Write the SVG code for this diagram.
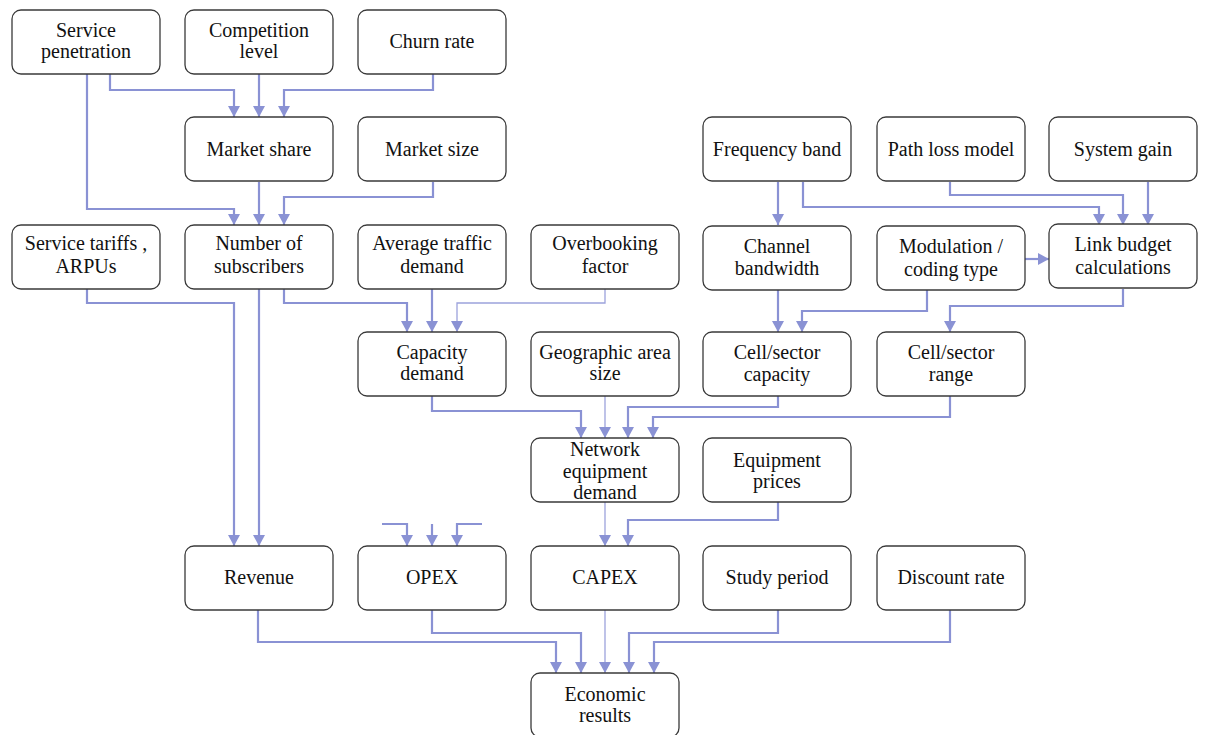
<svg xmlns="http://www.w3.org/2000/svg" width="1205" height="735" viewBox="0 0 1205 735">
  <style>
    .box { fill: #ffffff; stroke: #3a3a3a; stroke-width: 1.3; }
    text { font-family: "Liberation Serif", "Times New Roman", serif; font-size: 20px; fill: #111111; text-anchor: middle; }
    .wire { fill: none; stroke: #8a92d4; stroke-width: 2.2; marker-end: url(#tip); }
    .thin { fill: none; stroke: #9ca2dc; stroke-width: 1.3; marker-end: url(#tip); }
  </style>
  <defs>
    <marker id="tip" markerUnits="userSpaceOnUse" markerWidth="12" markerHeight="12" refX="11" refY="6" orient="auto">
      <path d="M0,0 L11,6 L0,12 z" fill="#8a92d4"/>
    </marker>
  </defs>
  <rect width="1205" height="735" fill="#ffffff"/>

  <!-- connectors -->
  <g id="connectors">
    <!-- into Market share -->
    <path class="wire" d="M110,74 V90 H234 V117"/>
    <path class="wire" d="M259,74 V117"/>
    <path class="wire" d="M433,74 V90 H284 V117"/>
    <!-- into Number of subscribers -->
    <path class="wire" d="M87,74 V209 H234 V225"/>
    <path class="wire" d="M259,182 V225"/>
    <path class="wire" d="M433,182 V197 H284 V225"/>
    <!-- into Revenue -->
    <path class="wire" d="M87,289 V303 H234 V546"/>
    <path class="wire" d="M259,289 V546"/>
    <!-- into Capacity demand -->
    <path class="wire" d="M284,289 V303 H407 V332"/>
    <path class="wire" d="M432,289 V332"/>
    <path class="thin" d="M605,289 V303 H457 V332"/>
    <!-- radio side -->
    <path class="wire" d="M778,182 V225"/>
    <path class="wire" d="M803,182 V207 H1099 V225"/>
    <path class="wire" d="M950,182 V195 H1123 V225"/>
    <path class="wire" d="M1148,182 V225"/>
    <path class="wire" d="M1025,259 H1049"/>
    <path class="wire" d="M778,289 V332"/>
    <path class="wire" d="M927,289 V311 H802 V332"/>
    <path class="wire" d="M1123,289 V306 H950 V332"/>
    <!-- into Network equipment demand -->
    <path class="wire" d="M432,396 V411 H581 V438"/>
    <path class="thin" d="M605,396 V438"/>
    <path class="wire" d="M778,396 V407 H628 V438"/>
    <path class="wire" d="M950,396 V417 H653 V438"/>
    <!-- into CAPEX -->
    <path class="thin" d="M605,502 V546"/>
    <path class="wire" d="M778,502 V520 H628 V546"/>
    <!-- into OPEX -->
    <path class="wire" d="M382,524 H407 V546"/>
    <path class="wire" d="M432,524 V546"/>
    <path class="wire" d="M482,524 H457 V546"/>
    <!-- into Economic results -->
    <path class="wire" d="M258,610 V642 H556 V673"/>
    <path class="wire" d="M432,610 V633 H581 V673"/>
    <path class="thin" d="M605,610 V673"/>
    <path class="wire" d="M778,610 V633 H629 V673"/>
    <path class="wire" d="M950,610 V642 H654 V673"/>
  </g>

  <g id="nodes">
  <!-- row 0 -->
  <g id="service-penetration"><rect class="box" x="12" y="10" width="148" height="64" rx="9"/>
    <text x="86" y="37">Service</text><text x="86" y="58">penetration</text></g>
  <g id="competition-level"><rect class="box" x="185" y="10" width="148" height="64" rx="9"/>
    <text x="259" y="37">Competition</text><text x="259" y="58">level</text></g>
  <g id="churn-rate"><rect class="box" x="358" y="10" width="148" height="64" rx="9"/>
    <text x="432" y="48">Churn rate</text></g>

  <!-- row 1 -->
  <g id="market-share"><rect class="box" x="185" y="117" width="148" height="64" rx="9"/>
    <text x="259" y="156">Market share</text></g>
  <g id="market-size"><rect class="box" x="358" y="117" width="148" height="64" rx="9"/>
    <text x="432" y="156">Market size</text></g>
  <g id="frequency-band"><rect class="box" x="703" y="117" width="148" height="64" rx="9"/>
    <text x="777" y="156">Frequency band</text></g>
  <g id="path-loss-model"><rect class="box" x="877" y="117" width="148" height="64" rx="9"/>
    <text x="951" y="156">Path loss model</text></g>
  <g id="system-gain"><rect class="box" x="1049" y="117" width="148" height="64" rx="9"/>
    <text x="1123" y="156">System gain</text></g>

  <!-- row 2 -->
  <g id="service-tariffs"><rect class="box" x="12" y="225" width="148" height="64" rx="9"/>
    <text x="86" y="250">Service tariffs ,</text><text x="86" y="273">ARPUs</text></g>
  <g id="number-of-subscribers"><rect class="box" x="185" y="225" width="148" height="64" rx="9"/>
    <text x="259" y="250">Number of</text><text x="259" y="273">subscribers</text></g>
  <g id="average-traffic-demand"><rect class="box" x="358" y="225" width="148" height="64" rx="9"/>
    <text x="432" y="250">Average traffic</text><text x="432" y="273">demand</text></g>
  <g id="overbooking-factor"><rect class="box" x="531" y="225" width="148" height="64" rx="9"/>
    <text x="605" y="250">Overbooking</text><text x="605" y="273">factor</text></g>
  <g id="channel-bandwidth"><rect class="box" x="703" y="226" width="148" height="64" rx="9"/>
    <text x="777" y="253">Channel</text><text x="777" y="275">bandwidth</text></g>
  <g id="modulation-coding"><rect class="box" x="877" y="226" width="148" height="64" rx="9"/>
    <text x="951" y="253">Modulation /</text><text x="951" y="276">coding type</text></g>
  <g id="link-budget"><rect class="box" x="1049" y="224" width="148" height="64" rx="9"/>
    <text x="1123" y="251">Link budget</text><text x="1123" y="274">calculations</text></g>

  <!-- row 3 -->
  <g id="capacity-demand"><rect class="box" x="358" y="332" width="148" height="64" rx="9"/>
    <text x="432" y="359">Capacity</text><text x="432" y="380">demand</text></g>
  <g id="geographic-area"><rect class="box" x="531" y="332" width="148" height="64" rx="9"/>
    <text x="605" y="359">Geographic area</text><text x="605" y="380">size</text></g>
  <g id="cell-capacity"><rect class="box" x="703" y="332" width="148" height="64" rx="9"/>
    <text x="777" y="359">Cell/sector</text><text x="777" y="381">capacity</text></g>
  <g id="cell-range"><rect class="box" x="877" y="332" width="148" height="64" rx="9"/>
    <text x="951" y="359">Cell/sector</text><text x="951" y="381">range</text></g>

  <!-- row 4 -->
  <g id="network-equipment-demand"><rect class="box" x="531" y="438" width="148" height="64" rx="9"/>
    <text x="605" y="456">Network</text><text x="605" y="478">equipment</text><text x="605" y="499">demand</text></g>
  <g id="equipment-prices"><rect class="box" x="703" y="438" width="148" height="64" rx="9"/>
    <text x="777" y="467">Equipment</text><text x="777" y="488">prices</text></g>

  <!-- row 5 -->
  <g id="revenue"><rect class="box" x="185" y="546" width="148" height="64" rx="9"/>
    <text x="259" y="584">Revenue</text></g>
  <g id="opex"><rect class="box" x="358" y="546" width="148" height="64" rx="9"/>
    <text x="432" y="584">OPEX</text></g>
  <g id="capex"><rect class="box" x="531" y="546" width="148" height="64" rx="9"/>
    <text x="605" y="584">CAPEX</text></g>
  <g id="study-period"><rect class="box" x="703" y="546" width="148" height="64" rx="9"/>
    <text x="777" y="584">Study period</text></g>
  <g id="discount-rate"><rect class="box" x="877" y="546" width="148" height="64" rx="9"/>
    <text x="951" y="584">Discount rate</text></g>

  <!-- row 6 -->
  <g id="economic-results"><rect class="box" x="531" y="673" width="148" height="64" rx="9"/>
    <text x="605" y="701">Economic</text><text x="605" y="722">results</text></g>
  </g>
</svg>
